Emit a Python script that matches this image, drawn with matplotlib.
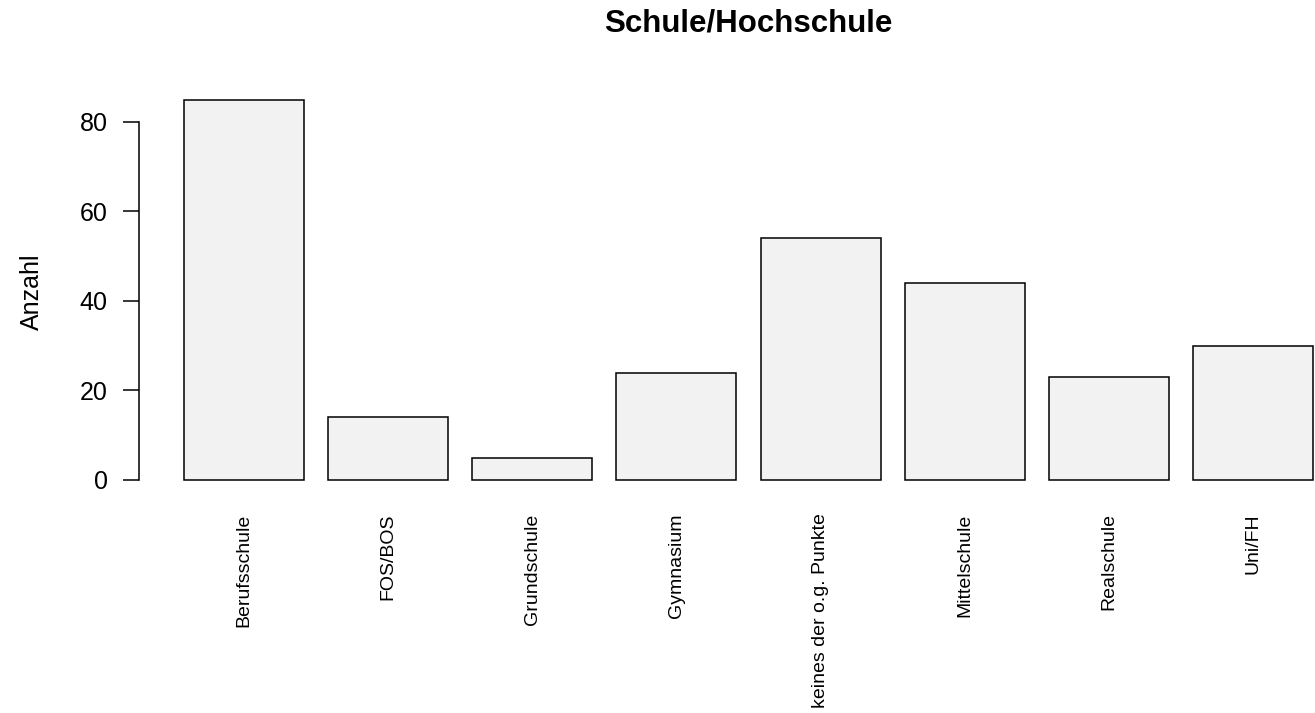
import numpy as np
import matplotlib
matplotlib.use("Agg")
import matplotlib.pyplot as plt

plt.rcParams['font.family'] = ['Liberation Sans', 'DejaVu Sans']

# data
categories = ['Berufsschule', 'FOS/BOS', 'Grundschule', 'Gymnasium',
              'keines der o.g. Punkte', 'Mittelschule', 'Realschule', 'Uni/FH']
counts = [85, 14, 5, 24, 54, 44, 23, 30]

W, H = 1315, 713
fig = plt.figure(figsize=(W / 100, H / 100), dpi=100)

# R-style plot region (extends past the right edge like the original)
ax = fig.add_axes([139 / W, 1 - 495.2 / H, (1358 - 139) / W, (495.2 - 84.4) / H])

# barplot: width 1, space 0.2
pos = 0.2 + 0.5 + np.arange(len(counts)) * 1.2
ax.bar(pos, counts, width=1.0, color='#f2f2f2', edgecolor='black', linewidth=1.1)

n = len(counts)
xmin, xmax = 0.2, 0.2 + n * 1.2 - 0.2
ext = 0.04 * (xmax - xmin)
ax.set_xlim(xmin - ext, xmax + ext)
top = max(counts)
ax.set_ylim(-0.04 * top, top * 1.04)

for s in ['top', 'right', 'bottom']:
    ax.spines[s].set_visible(False)
ax.spines['left'].set_bounds(0, 80)
ax.spines['left'].set_linewidth(1.1)

ax.set_yticks([0, 20, 40, 60, 80])
ax.tick_params(axis='y', length=11.5, width=1.1, pad=11, labelsize=18)
ax.set_xticks(pos)
ax.set_xticklabels(categories, rotation=90, va='top', ha='center', fontsize=14)
ax.tick_params(axis='x', length=0, pad=13)

fig.text(32 / W, 1 - 292 / H, 'Anzahl', rotation=90, ha='center', va='center', fontsize=18)
fig.text(748.5 / W, 1 - 23 / H, 'Schule/Hochschule', ha='center', va='center',
         fontsize=22.5, fontweight='bold')

fig.savefig('out.png', dpi=100)
